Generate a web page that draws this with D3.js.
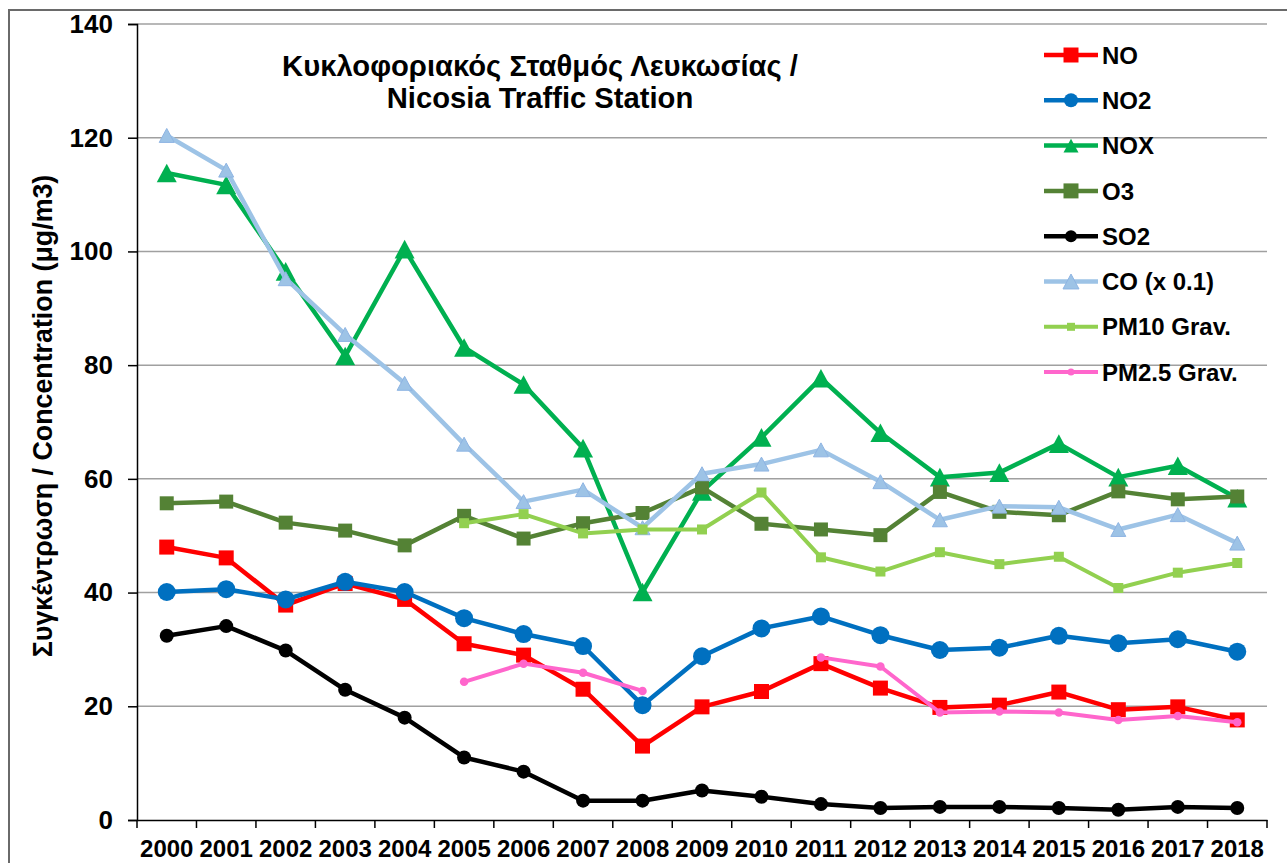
<!DOCTYPE html>
<html>
<head>
<meta charset="utf-8">
<script src="https://cdn.jsdelivr.net/npm/d3@7"></script>
<style>
  html, body { margin: 0; padding: 0; background: #fff; overflow: hidden; }
  svg { display: block; font-family: "Liberation Sans", Arial, sans-serif; }
</style>
</head>
<body>
<svg id="chart" width="1287" height="863"></svg>
<script>
const years = ["2000","2001","2002","2003","2004","2005","2006","2007","2008","2009","2010","2011","2012","2013","2014","2015","2016","2017","2018"];
const yTicks = [0, 20, 40, 60, 80, 100, 120, 140];

const NO   = [48.0, 46.1, 37.8, 41.6, 38.8, 31.0, 29.0, 23.0, 13.0, 19.9, 22.6, 27.5, 23.2, 19.8, 20.2, 22.5, 19.4, 19.9, 17.6];
const NO2  = [40.1, 40.6, 38.8, 41.9, 40.1, 35.5, 32.7, 30.6, 20.2, 28.8, 33.7, 35.8, 32.5, 29.9, 30.3, 32.4, 31.1, 31.8, 29.6];
const NOX  = [113.8, 111.7, 96.5, 81.6, 100.4, 83.1, 76.6, 65.4, 40.1, 57.8, 67.3, 77.7, 68.1, 60.3, 61.1, 66.2, 60.3, 62.3, 56.6];
const O3   = [55.7, 56.0, 52.3, 50.9, 48.3, 53.5, 49.5, 52.2, 54.0, 58.5, 52.1, 51.1, 50.1, 57.7, 54.2, 53.6, 57.8, 56.4, 56.9];
const SO2  = [32.4, 34.1, 29.8, 22.9, 18.0, 11.0, 8.5, 3.4, 3.4, 5.2, 4.1, 2.8, 2.1, 2.3, 2.3, 2.1, 1.8, 2.3, 2.1];
const CO   = [120.4, 114.3, 95.2, 85.4, 76.8, 66.1, 56.0, 58.1, 51.4, 60.9, 62.6, 65.1, 59.5, 52.8, 55.2, 55.0, 51.1, 53.7, 48.7];
const PM10 = [null, null, null, null, null, 52.2, 53.8, 50.4, 51.1, 51.1, 57.6, 46.2, 43.7, 47.1, 45.0, 46.3, 40.8, 43.5, 45.2];
const PM25 = [null, null, null, null, null, 24.3, 27.5, 25.9, 22.7, null, null, 28.6, 27.0, 18.9, 19.1, 18.9, 17.6, 18.3, 17.2];

const seriesNames = ["NO", "NO2", "NOX", "O3", "SO2", "CO (x 0.1)", "PM10 Grav.", "PM2.5 Grav."];
const seriesValues = [NO, NO2, NOX, O3, SO2, CO, PM10, PM25];
const seriesColors = ["#FF0000", "#0070C0", "#00B050", "#548235", "#000000", "#9DC3E6", "#92D050", "#FF66CC"];
const seriesShapes = ["square", "circle", "triangle", "square", "circle", "triangle", "square", "circle"];

const titleLines = ["Κυκλοφοριακός Σταθμός Λευκωσίας /", "Nicosia Traffic Station"];
const yTitle = "Συγκέντρωση / Concentration (μg/m3)";

// ---- styles (kept separate from data) ----
const markerSize = [15, 18, 20, 14, 14, 15, 10, 8.5];
const legendMarkerSize = [15, 14, 15, 15, 12, 16, 8, 7];
const lineWidth = [4.5, 4.5, 4.5, 4.5, 4.5, 4.5, 4, 4];
const markerStroke = [null, null, null, null, null, "#8EB4E3", null, null];
const FONT = "'Liberation Sans', Arial, sans-serif";

const svg = d3.select("#chart");
const margin = { left: 137, right: 1267, top: 24, bottom: 820 };

const x = d3.scaleBand().domain(years).range([margin.left, margin.right]).padding(0);
const y = d3.scaleLinear().domain([0, 140]).range([margin.bottom, margin.top]);
const cx = d => x(d) + x.bandwidth() / 2;

// outer frame
svg.append("rect")
  .attr("x", 9).attr("y", 10).attr("width", 1400).attr("height", 1000)
  .attr("fill", "none").attr("stroke", "#6a6a6a").attr("stroke-width", 2);

// gridlines
svg.append("g").selectAll("line").data(yTicks.filter(t => t > 0)).join("line")
  .attr("x1", margin.left).attr("x2", margin.right)
  .attr("y1", d => y(d)).attr("y2", d => y(d))
  .attr("stroke", "#a0a0a0").attr("stroke-width", 1.5);

// y axis
const yAxis = svg.append("g").attr("transform", `translate(${margin.left},0)`)
  .call(d3.axisLeft(y).tickValues(yTicks).tickSize(9).tickPadding(15));
yAxis.select(".domain").attr("stroke", "#000").attr("stroke-width", 1.5);
yAxis.selectAll(".tick line").attr("stroke", "#000").attr("stroke-width", 1.5);
yAxis.selectAll(".tick text")
  .attr("font-size", 26).attr("font-weight", "bold").attr("fill", "#000")
  .attr("font-family", FONT);

// x axis
const xAxis = svg.append("g").attr("transform", `translate(0,${margin.bottom})`)
  .call(d3.axisBottom(x).tickSize(0).tickPadding(20));
xAxis.select(".domain").attr("stroke", "#000").attr("stroke-width", 1.5);
xAxis.selectAll(".tick text")
  .attr("font-size", 24).attr("font-weight", "bold").attr("fill", "#000")
  .attr("font-family", FONT);
// category boundary ticks
const boundaries = years.map(d => x(d)).concat([x(years[years.length - 1]) + x.bandwidth()]);
svg.append("g").selectAll("line").data(boundaries).join("line")
  .attr("x1", d => d).attr("x2", d => d)
  .attr("y1", margin.bottom).attr("y2", margin.bottom + 8)
  .attr("stroke", "#000").attr("stroke-width", 1.5);

// marker path generator
function markerPath(shape, s) {
  if (shape === "square") {
    return `M${-s/2},${-s/2}H${s/2}V${s/2}H${-s/2}Z`;
  }
  if (shape === "triangle") {
    const h = s * 0.93;
    return `M0,${-h/2}L${s/2},${h/2}L${-s/2},${h/2}Z`;
  }
  const r = s / 2;
  return `M${r},0A${r},${r},0,1,1,${-r},0A${r},${r},0,1,1,${r},0Z`;
}

// series
const plot = svg.append("g");
seriesValues.forEach((vals, i) => {
  const pts = years.map((yr, j) => ({ yr, v: vals[j] }));
  const line = d3.line().defined(d => d.v !== null).x(d => cx(d.yr)).y(d => y(d.v));
  const g = plot.append("g");
  g.append("path").datum(pts)
    .attr("d", line).attr("fill", "none")
    .attr("stroke", seriesColors[i]).attr("stroke-width", lineWidth[i])
    .attr("stroke-linejoin", "round").attr("stroke-linecap", "round");
  g.selectAll("path.m").data(pts.filter(d => d.v !== null)).join("path")
    .attr("class", "m")
    .attr("transform", d => `translate(${cx(d.yr)},${y(d.v)})`)
    .attr("d", markerPath(seriesShapes[i], markerSize[i]))
    .attr("fill", seriesColors[i])
    .attr("stroke", markerStroke[i] || "none")
    .attr("stroke-width", markerStroke[i] ? 1 : 0);
});

// title
const title = svg.append("text")
  .attr("text-anchor", "middle").attr("font-size", 29.2).attr("font-weight", "bold").attr("fill", "#000");
titleLines.forEach((t, i) => {
  title.append("tspan").attr("x", 540).attr("y", 76 + i * 31.5).text(t);
});

// y axis title
svg.append("text")
  .attr("transform", `translate(52,416) rotate(-90)`)
  .attr("text-anchor", "middle").attr("font-size", 26.8).attr("font-weight", "bold").attr("fill", "#000")
  .text(yTitle);

// legend
const legend = svg.append("g");
const legendY0 = 55, legendStep = 45.3;
seriesNames.forEach((name, i) => {
  const ly = legendY0 + i * legendStep;
  const g = legend.append("g").attr("transform", `translate(0,${ly})`);
  g.append("line").attr("x1", 1044).attr("x2", 1098).attr("y1", 0).attr("y2", 0)
    .attr("stroke", seriesColors[i]).attr("stroke-width", lineWidth[i]);
  g.append("path").attr("transform", "translate(1071,0)")
    .attr("d", markerPath(seriesShapes[i], legendMarkerSize[i]))
    .attr("fill", seriesColors[i])
    .attr("stroke", markerStroke[i] || "none")
    .attr("stroke-width", markerStroke[i] ? 1 : 0);
  g.append("text").attr("x", 1102).attr("y", 0).attr("dy", "0.36em")
    .attr("font-size", 24).attr("font-weight", "bold").attr("fill", "#000")
    .text(name);
});
</script>
</body>
</html>
